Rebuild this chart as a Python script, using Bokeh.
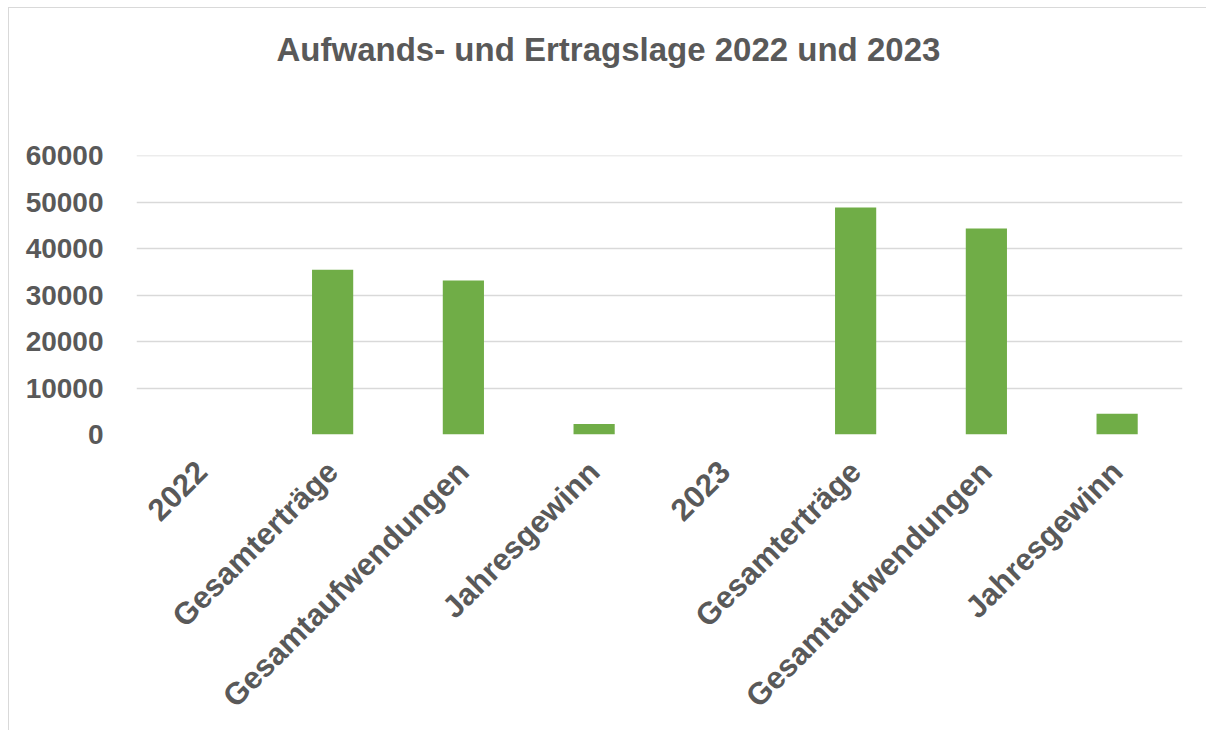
from bokeh.plotting import figure
from bokeh.models import FixedTicker, Range1d, Title
from bokeh.embed import file_html
from bokeh.resources import INLINE
import math

categories = ["2022", "Gesamterträge", "Gesamtaufwendungen", "Jahresgewinn",
              "2023", "Gesamterträge", "Gesamtaufwendungen", "Jahresgewinn"]
values = [0, 35500, 33200, 2250, 0, 48900, 44400, 4450]
y_ticks = [0, 10000, 20000, 30000, 40000, 50000, 60000]
title_text = "Aufwands- und Ertragslage 2022 und 2023"

FONT = "Liberation Sans"
TXT = "#595959"

W, H = 1206, 730
LEFT, RIGHT, TOP, BOTTOM = 136, 24, 155, 296

x = list(range(len(categories)))

bg = ("linear-gradient(#d9d9d9, #d9d9d9) 8px 7px / 1px 100% no-repeat, "
      "linear-gradient(#d9d9d9, #d9d9d9) 8px 7px / 100% 1px no-repeat, white")

p = figure(width=W, height=H, output_backend="svg", toolbar_location=None,
           x_range=Range1d(-0.5, len(categories) - 0.5), y_range=Range1d(0, 60100),
           min_border_left=LEFT, min_border_right=RIGHT, min_border_top=TOP, min_border_bottom=BOTTOM,
           styles={"background": bg})
p.border_fill_color = None
p.background_fill_color = "white"

# spacer between frame and title, then the title itself (stacked further out)
p.add_layout(Title(text=" ", text_font_size="10px", standoff=70), "above")
p.add_layout(Title(text=title_text, align="left", offset=140, text_font=FONT,
                   text_font_size="33px", text_font_style="bold", text_color=TXT,
                   standoff=10), "above")

p.vbar(x=x, top=values, width=0.315, fill_color="#70AD47", line_color=None)

p.outline_line_color = None
p.xgrid.grid_line_color = None
p.ygrid.grid_line_color = "#d9d9d9"
p.ygrid.grid_line_width = 1.5

p.yaxis.ticker = FixedTicker(ticks=y_ticks)
p.yaxis.axis_line_color = None
p.yaxis.major_tick_line_color = None
p.yaxis.minor_tick_line_color = None
p.yaxis.major_label_text_font = FONT
p.yaxis.major_label_text_font_size = "28px"
p.yaxis.major_label_text_font_style = "bold"
p.yaxis.major_label_text_color = TXT
p.yaxis.major_label_standoff = 27

p.xaxis.ticker = FixedTicker(ticks=x)
p.xaxis.major_label_overrides = {i: c for i, c in zip(x, categories)}
p.xaxis.major_label_orientation = math.pi / 4
p.xaxis.axis_line_color = None
p.xaxis.major_tick_line_color = None
p.xaxis.minor_tick_line_color = None
p.xaxis.major_label_text_font = FONT
p.xaxis.major_label_text_font_size = "31px"
p.xaxis.major_label_text_font_style = "bold"
p.xaxis.major_label_text_color = TXT
p.xaxis.major_label_standoff = 26

open("out.html", "w").write(file_html(p, INLINE))
